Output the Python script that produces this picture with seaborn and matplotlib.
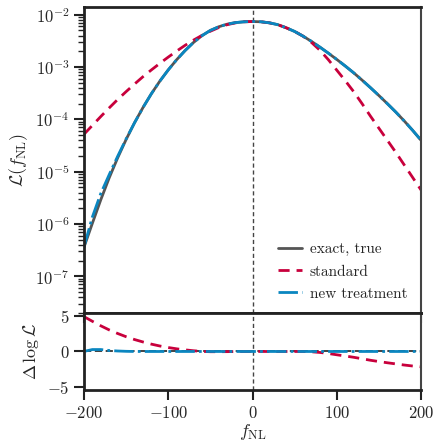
import numpy as np
import pandas as pd
import seaborn as sns
import matplotlib
matplotlib.use("Agg")
import matplotlib.pyplot as plt
from matplotlib.ticker import LogLocator, NullFormatter

# f_NL grid and log10 of the likelihoods
f_nl = [-200, -190, -180, -170, -160, -150, -140, -130, -120, -110, -100,
        -90, -80, -70, -60, -50, -40, -30, -20, -10, 0,
        10, 20, 30, 40, 50, 60, 70, 80, 90, 100,
        110, 120, 130, 140, 150, 160, 170, 180, 190, 200]

log_exact = [-6.445, -5.985, -5.535, -5.115, -4.735, -4.385, -4.065, -3.775, -3.51, -3.27, -3.055,
             -2.86, -2.685, -2.53, -2.40, -2.30, -2.23, -2.18, -2.15, -2.135, -2.13,
             -2.135, -2.155, -2.19, -2.25, -2.32, -2.41, -2.51, -2.62, -2.735, -2.855,
             -2.98, -3.11, -3.25, -3.395, -3.545, -3.70, -3.86, -4.03, -4.21, -4.40]

log_standard = [-4.285, -4.115, -3.945, -3.78, -3.62, -3.47, -3.325, -3.185, -3.055, -2.93, -2.81,
                -2.695, -2.585, -2.485, -2.395, -2.315, -2.245, -2.19, -2.155, -2.135, -2.13,
                -2.135, -2.155, -2.19, -2.25, -2.32, -2.41, -2.53, -2.68, -2.86, -3.06,
                -3.26, -3.47, -3.70, -3.94, -4.17, -4.40, -4.63, -4.87, -5.11, -5.35]

log_new = [-6.44, -5.865, -5.415, -5.055, -4.705, -4.375, -4.065, -3.775, -3.51, -3.27, -3.055,
           -2.86, -2.685, -2.53, -2.40, -2.30, -2.23, -2.18, -2.15, -2.135, -2.13,
           -2.135, -2.155, -2.19, -2.25, -2.32, -2.41, -2.51, -2.62, -2.735, -2.855,
           -2.98, -3.11, -3.25, -3.395, -3.545, -3.70, -3.86, -4.03, -4.21, -4.40]

x_ticks = [-200, -100, 0, 100, 200]
l_ticks = [1e-7, 1e-6, 1e-5, 1e-4, 1e-3, 1e-2]
dy_ticks = [-5, 0, 5]

c_exact = "#555555"
c_std = "#c8003c"
c_new = "#0a86c0"

sns.set_style("ticks")
plt.rcParams["font.family"] = "serif"
plt.rcParams["font.serif"] = ["cmr10", "DejaVu Serif"]
plt.rcParams["mathtext.fontset"] = "cm"
plt.rcParams["axes.formatter.use_mathtext"] = True
plt.rcParams["axes.unicode_minus"] = False

df = pd.DataFrame({
    "f": f_nl,
    "exact": 10 ** np.array(log_exact),
    "standard": 10 ** np.array(log_standard),
    "new": 10 ** np.array(log_new),
})
# natural log differences w.r.t. the exact likelihood
df["d_std"] = np.log(df["standard"]) - np.log(df["exact"])
df["d_new"] = np.log(df["new"]) - np.log(df["exact"])
df["d_exact"] = 0.0

fig = plt.figure(figsize=(4.35, 4.42), dpi=100)
ax = fig.add_axes([0.193, 0.292, 0.775, 0.692])
axd = fig.add_axes([0.193, 0.1176, 0.775, 0.1744])

lw = 2.0
dash_std = (0, (4, 2.5))
dash_new = (0, (7, 1.5, 1, 1.5))

sns.lineplot(data=df, x="f", y="exact", ax=ax, color=c_exact, lw=lw, label="exact, true")
sns.lineplot(data=df, x="f", y="standard", ax=ax, color=c_std, lw=lw,
             linestyle=dash_std, label="standard")
sns.lineplot(data=df, x="f", y="new", ax=ax, color=c_new, lw=lw,
             linestyle=dash_new, label="new treatment")
ax.axvline(0, color="#444444", lw=1.0, ls=(0, (3, 2)), zorder=0)

ax.set_yscale("log")
ax.set_xlim(-200, 200)
ax.set_ylim(2e-8, 1.4e-2)
ax.set_xticks(x_ticks)
ax.xaxis.set_major_formatter(NullFormatter())
ax.set_yticks(l_ticks)
ax.yaxis.set_minor_locator(LogLocator(base=10, subs=np.arange(2, 10), numticks=12))
ax.yaxis.set_minor_formatter(NullFormatter())
ax.set_xlabel("")
ax.set_ylabel(r"$\mathcal{L}(f_\mathrm{NL})$", fontsize=13, labelpad=4)
ax.legend(loc="lower right", frameon=False, fontsize=11, handlelength=1.6,
          handletextpad=0.5, bbox_to_anchor=(1.0, -0.005), labelspacing=0.55)

sns.lineplot(data=df, x="f", y="d_exact", ax=axd, color="#333333", lw=1.3,
             linestyle=(0, (4, 2)))
sns.lineplot(data=df, x="f", y="d_std", ax=axd, color=c_std, lw=lw, linestyle=dash_std)
sns.lineplot(data=df, x="f", y="d_new", ax=axd, color=c_new, lw=lw, linestyle=dash_new)
axd.axvline(0, color="#444444", lw=1.0, ls=(0, (3, 2)), zorder=0)
axd.set_xlim(-200, 200)
axd.set_ylim(-5.5, 5.5)
axd.set_xticks(x_ticks)
axd.set_yticks(dy_ticks)
axd.set_xlabel(r"$f_\mathrm{NL}$", fontsize=13, labelpad=1)
axd.set_ylabel(r"$\Delta\,\log\mathcal{L}$", fontsize=13, labelpad=4)

for a in (ax, axd):
    a.tick_params(which="major", direction="out", length=7, width=1.5,
                  labelsize=12, color="#222222")
    a.tick_params(which="minor", direction="out", length=4, width=1.0, color="#222222")
    for side in ("left", "bottom", "top"):
        a.spines[side].set_linewidth(2.0)
        a.spines[side].set_color("#222222")
    a.spines["right"].set_linewidth(1.5)
    a.spines["right"].set_color("#444444")

fig.savefig("out.png", dpi=100)
